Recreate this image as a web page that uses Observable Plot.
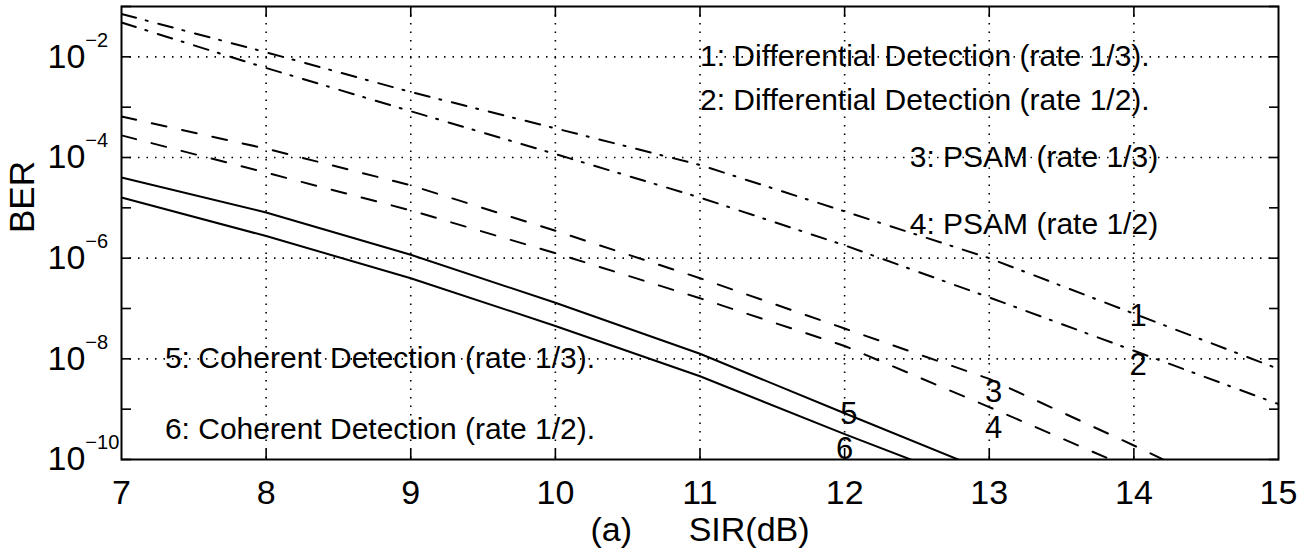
<!DOCTYPE html>
<html>
<head>
<meta charset="utf-8">
<script src="https://cdn.jsdelivr.net/npm/d3@7"></script>
<script src="https://cdn.jsdelivr.net/npm/@observablehq/plot@0.6"></script>
<style>
  html, body { margin: 0; padding: 0; background: #fff; }
  #chart svg { display: block; }
</style>
</head>
<body>
<div id="chart"></div>
<script>
// ---- data ----
const sir = [7, 8, 9, 10, 11, 12, 13, 14, 15];
const berDiff13  = [7.1e-2, 1.23e-2, 2.0e-3, 3.8e-4, 7.1e-5, 8.5e-6, 1.0e-6, 7.9e-8, 6.3e-9];
const berDiff12  = [4.8e-2, 6.0e-3, 8.3e-4, 1.17e-4, 1.6e-5, 1.8e-6, 1.66e-7, 1.45e-8, 1.26e-9];
const berPsam13  = [6.5e-4, 1.5e-4, 2.8e-5, 3.5e-6, 4.0e-7, 4.0e-8, 4.0e-9, 1.9e-10, 8e-12];
const berPsam12  = [2.75e-4, 5.0e-5, 8.9e-6, 1.26e-6, 1.6e-7, 1.8e-8, 1.1e-9, 6.3e-11, 3.2e-12];
const berCoh13   = [4.0e-5, 8.1e-6, 1.17e-6, 1.3e-7, 1.26e-8, 8.3e-10, 5.6e-11, null, null];
const berCoh12   = [1.6e-5, 2.75e-6, 4.0e-7, 4.5e-8, 4.5e-9, 3.2e-10, 2.5e-11, null, null];

const xTicks = [7, 8, 9, 10, 11, 12, 13, 14, 15];
const xGrid = [8, 9, 10, 11, 12, 13, 14];
const yTicks = [1e-10, 1e-9, 1e-8, 1e-7, 1e-6, 1e-5, 1e-4, 1e-3, 1e-2, 1e-1];
const yLabelTicks = [1e-10, 1e-8, 1e-6, 1e-4, 1e-2];
const yGrid = [1e-8, 1e-6, 1e-4, 1e-2];

const noteText = [
  "1: Differential Detection (rate 1/3).",
  "2: Differential Detection (rate 1/2).",
  "3: PSAM (rate 1/3)",
  "4: PSAM (rate 1/2)",
  "5: Coherent Detection (rate 1/3).",
  "6: Coherent Detection (rate 1/2)."
];
const noteX = [11.0, 11.0, 12.45, 12.45, 7.3, 7.3];
const noteY = [1e-2, 1.35e-3, 1e-4, 4.7e-6, 1e-8, 4.0e-10];

const curveLabel = ["1", "2", "3", "4", "5", "6"];
const curveLabelX = [14.03, 14.03, 13.03, 13.03, 12.03, 12.0];
const curveLabelY = [7.0e-8, 7.6e-9, 2.2e-9, 4.3e-10, 8.0e-10, 1.6e-10];

// ---- tables built from the arrays ----
function rows(values, id) {
  return sir.map((x, i) => ({x, y: values[i], id})).filter(d => d.y != null);
}
const dashDot = [...rows(berDiff13, "1"), ...rows(berDiff12, "2")];
const dashed  = [...rows(berPsam13, "3"), ...rows(berPsam12, "4")];
const solid   = [...rows(berCoh13, "5"), ...rows(berCoh12, "6")];
const notes = noteText.map((t, i) => ({t, x: noteX[i], y: noteY[i]}));
const labels = curveLabel.map((t, i) => ({t, x: curveLabelX[i], y: curveLabelY[i]}));

const font = "'Liberation Sans', Arial, Helvetica, sans-serif";
const dotted = "1.5,7";

const plot = Plot.plot({
  width: 1310,
  height: 555,
  marginLeft: 121,
  marginRight: 32,
  marginTop: 6,
  marginBottom: 96,
  style: {fontFamily: font, fontSize: "34px", background: "#fff", color: "#000"},
  x: {domain: [7, 15]},
  y: {type: "log", domain: [1e-10, 1e-1]},
  marks: [
    Plot.gridX(xGrid, {stroke: "#000", strokeOpacity: 1, strokeWidth: 1.6, strokeDasharray: dotted}),
    Plot.gridY(yGrid, {stroke: "#000", strokeOpacity: 1, strokeWidth: 1.6, strokeDasharray: dotted}),
    Plot.line(dashDot, {x: "x", y: "y", z: "id", stroke: "#000", strokeWidth: 2, strokeDasharray: "15,10,2,11", clip: true}),
    Plot.line(dashed, {x: "x", y: "y", z: "id", stroke: "#000", strokeWidth: 2, strokeDasharray: "15,16", clip: true}),
    Plot.line(solid, {x: "x", y: "y", z: "id", stroke: "#000", strokeWidth: 2, clip: true}),
    Plot.text(notes, {x: "x", y: "y", text: "t", textAnchor: "start", fontSize: 30, fill: "#000"}),
    Plot.text(labels, {x: "x", y: "y", text: "t", textAnchor: "middle", fontSize: 31, fill: "#000"}),
    Plot.frame({stroke: "#000", strokeWidth: 2}),
    // inward ticks on all four sides
    Plot.axisX(xGrid, {anchor: "bottom", tickSize: -10, strokeWidth: 1.6, tickFormat: () => "", label: null}),
    Plot.axisX(xGrid, {anchor: "top", tickSize: -10, strokeWidth: 1.6, tickFormat: () => "", label: null}),
    Plot.axisY(yTicks, {anchor: "left", tickSize: -10, strokeWidth: 1.6, tickFormat: () => "", label: null}),
    Plot.axisY(yTicks, {anchor: "right", tickSize: -10, strokeWidth: 1.6, tickFormat: () => "", label: null}),
    // tick labels
    Plot.axisX(xTicks, {anchor: "bottom", tickSize: 0, tickPadding: 20, fontSize: 34, tickFormat: d => String(d), label: null}),
    Plot.axisY(yLabelTicks, {anchor: "left", tickSize: 0, tickPadding: 8, fontSize: 34,
      tickFormat: d => "10^" + Math.round(Math.log10(d)), label: null}),
    // axis titles
    Plot.text(["BER"], {text: d => d, frameAnchor: "left", rotate: -90, dx: -99, fontSize: 35, lineAnchor: "middle"}),
    Plot.text(["(a)\u00a0\u00a0\u00a0\u00a0\u00a0\u00a0SIR(dB)"], {text: d => d, frameAnchor: "bottom", dy: 71, fontSize: 34, lineAnchor: "middle"})
  ]
});

// superscript exponents on the y tick labels (base "10" left-aligned like the reference)
d3.select(plot).selectAll('g[aria-label="y-axis tick label"] text').each(function () {
  const s = this.textContent;
  if (!s.includes("^")) return;
  const [base, exp] = s.split("^");
  const t = d3.select(this);
  t.text(null).attr("text-anchor", "start");
  t.append("tspan").attr("dx", -66).text(base);
  t.append("tspan").attr("dy", -21).attr("font-size", 20).text(exp.replace("-", "\u2212"));
});

document.getElementById("chart").appendChild(plot);
</script>
</body>
</html>
